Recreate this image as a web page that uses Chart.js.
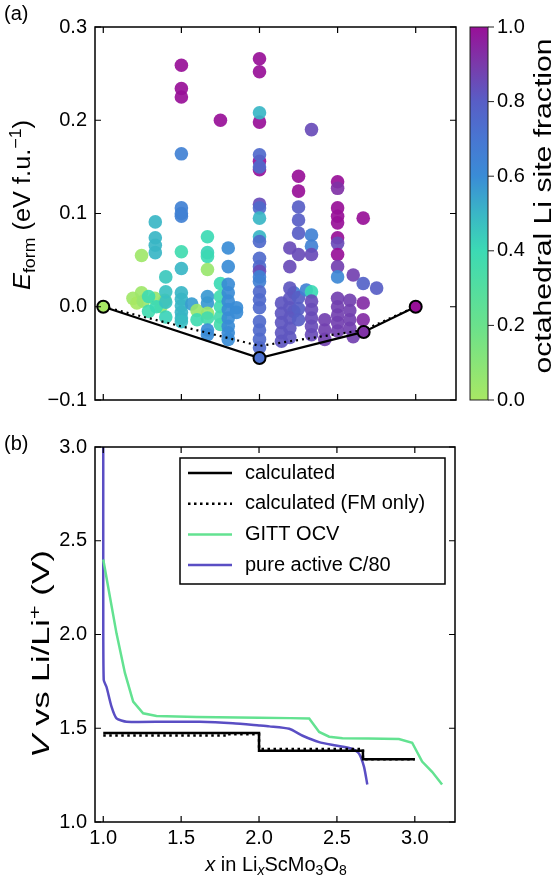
<!DOCTYPE html>
<html><head><meta charset="utf-8">
<script src="https://cdn.jsdelivr.net/npm/chart.js@4/dist/chart.umd.min.js"></script>
<style>
html,body{margin:0;padding:0;background:#fff;width:559px;height:875px;overflow:hidden}
#ca{position:absolute;left:0;top:0}
#cb{position:absolute;left:0;top:420px}
</style></head><body>
<canvas id="ca" width="559" height="420"></canvas>
<canvas id="cb" width="559" height="455"></canvas>
<script>
// ---------- DATA: panel (a) ----------
const scatterX = [
 1.19,1.215,1.245,1.256,1.245,1.33,1.37,1.394,
 1.29,1.29,1.34,
 1.333,1.333,1.333,1.333,
 1.4,1.4,1.4,1.4,
 1.5,1.5,1.5,1.5,1.5,1.5,1.5,1.5,1.5,1.5,1.5,1.5,1.5,1.5,1.5,
 1.566,1.6,1.6,
 1.667,1.667,1.667,1.667,1.667,1.667,1.667,1.667,1.667,1.667,
 1.75,1.75,1.75,1.75,1.75,1.75,
 1.8,1.8,1.8,1.8,1.8,1.8,1.8,1.8,1.8,1.8,
 1.853,1.853,
 2.0,2.0,2.0,2.0,2.0,2.0,2.0,2.0,2.0,2.0,2.0,2.0,2.0,2.0,2.0,2.0,2.0,2.0,2.0,2.0,2.0,2.0,2.0,2.0,2.0,
 2.141,2.141,2.141,2.141,2.141,
 2.22,2.22,
 2.194,2.194,2.194,2.194,2.194,2.194,2.194,2.194,
 2.25,2.25,2.25,2.25,2.25,2.25,2.25,2.25,2.25,
 2.3,
 2.333,2.333,2.333,2.333,2.333,2.333,2.333,2.333,2.333,2.333,
 2.418,2.418,2.418,
 2.5,2.5,2.5,2.5,2.5,2.5,2.5,2.5,2.5,2.5,2.5,2.5,2.5,2.5,2.5,
 2.578,2.578,2.578,2.578,
 2.6,2.6,
 2.664,2.664,2.664,2.664,
 2.75
];
const scatterE = [
 0.009,0.004,0.015,0.006,0.055,0.009,0.0,0.007,
 0.011,-0.005,0.0,
 0.091,0.074,0.066,0.058,
 0.032,0.016,0.005,-0.011,
 0.259,0.234,0.225,0.164,0.106,0.1,0.097,0.059,0.041,0.015,0.008,0.001,-0.006,-0.012,-0.016,
 0.003,-0.004,-0.014,
 0.075,0.058,0.054,0.04,0.011,0.004,-0.007,-0.012,-0.025,-0.03,
 0.2,0.025,0.011,0.0,-0.011,-0.019,
 0.063,0.043,0.024,0.015,0.006,-0.003,-0.012,-0.021,-0.028,-0.035,
 -0.001,-0.006,
 0.266,0.252,0.198,0.156,0.147,0.208,0.163,0.15,0.11,0.106,0.095,0.075,0.07,0.052,0.043,0.038,0.032,0.027,0.016,0.0075,-0.001,-0.016,-0.025,-0.035,-0.044,
 0.004,-0.007,-0.017,-0.028,-0.037,
 0.015,-0.005,
 0.063,0.043,0.02,0.009,-0.001,-0.012,-0.023,-0.033,
 0.14,0.124,0.107,0.093,0.079,0.056,0.01,-0.002,-0.014,
 0.018,
 0.19,0.077,0.065,0.056,0.016,0.006,-0.003,-0.012,-0.021,-0.03,
 -0.014,-0.025,-0.035,
 0.134,0.127,0.106,0.097,0.09,0.074,0.068,0.056,0.043,0.032,0.009,0.0,-0.009,-0.017,-0.026,
 0.007,-0.004,-0.014,-0.023,
 0.034,-0.032,
 0.095,0.025,0.004,-0.014,
 0.02
];
const scatterF = [
 0.02,0.0,0.03,0.05,0.03,0.05,0.06,0.08,
 0.38,0.38,0.4,
 0.5,0.5,0.5,0.5,
 0.45,0.47,0.47,0.42,
 1,1,1,0.65,0.65,0.65,0.65,0.38,0.5,0.5,0.5,0.5,0.5,0.5,0.48,
 0.56,0.05,0.38,
 0.4,0.42,0.4,0.05,0.57,0.57,0.05,0.36,0.6,0.6,
 1,0.4,0.38,0.38,0.36,0.36,
 0.6,0.6,0.6,0.6,0.6,0.6,0.6,0.6,0.6,0.6,
 0.6,0.6,
 1,1,1,1,1,0.5,0.75,0.75,0.85,0.75,0.5,0.5,0.75,0.75,0.75,0.85,0.65,0.65,0.75,0.75,0.75,0.75,0.75,0.75,0.75,
 0.82,0.82,0.82,0.82,0.82,
 0.65,0.65,
 0.85,0.85,0.82,0.82,0.82,0.82,0.82,0.82,
 1,1,0.8,0.8,0.8,0.85,0.8,0.8,0.8,
 0.65,
 0.85,0.65,0.65,0.85,0.4,0.85,0.85,0.85,0.85,0.85,
 0.88,0.88,0.88,
 1,0.92,1,1,1,1,0.85,1,0.88,0.62,0.88,0.88,0.88,0.88,0.88,
 0.88,0.88,0.88,0.88,
 0.88,0.88,
 1,0.78,0.93,0.93,
 0.8
];
const hullX = [1.0, 2.0, 2.667, 3.0];
const hullE = [0.0, -0.055, -0.027, 0.0];
const hullF = [0.0, 0.72, 0.92, 1.0];
const hullFmX = [1.0, 2.0, 2.667, 3.0];
const hullFmE = [0.0, -0.042, -0.025, 0.0];
const xTicks = [1.0, 1.5, 2.0, 2.5, 3.0];
const eTicks = [-0.1, 0.0, 0.1, 0.2, 0.3];
const cbTicks = [0.0, 0.2, 0.4, 0.6, 0.8, 1.0];
// ---------- DATA: panel (b) ----------
const vTicks = [1.0, 1.5, 2.0, 2.5, 3.0];
const calcX = [1.0, 2.0, 2.667, 3.0];
const calcV = [1.475, 1.38, 1.335, 1.335];
const fmX = [1.0, 1.8, 2.0, 2.667, 3.0];
const fmV = [1.462, 1.468, 1.39, 1.335, 1.335];
const gittX = [1.0, 1.043, 1.085, 1.139, 1.192, 1.256, 1.342, 1.6, 2.0, 2.2, 2.322, 2.386, 2.45, 2.536, 2.7, 2.898, 2.983, 3.047, 3.111, 3.175];
const gittV = [2.40, 2.2, 2.006, 1.795, 1.642, 1.58, 1.565, 1.56, 1.556, 1.554, 1.552, 1.48, 1.455, 1.447, 1.445, 1.443, 1.423, 1.322, 1.268, 1.2];
const c80X = [1.0, 1.0, 1.003, 1.021, 1.053, 1.085, 1.15, 1.4, 1.619, 1.832, 2.0, 2.066, 2.194, 2.28, 2.386, 2.493, 2.6, 2.642, 2.674, 2.695];
const c80V = [3.0, 2.2, 1.757, 1.72, 1.615, 1.553, 1.535, 1.535, 1.535, 1.527, 1.515, 1.51, 1.497, 1.46, 1.426, 1.408, 1.39, 1.365, 1.294, 1.2];
const seriesLabels = ['calculated', 'calculated (FM only)', 'GITT OCV', 'pure active C/80'];

// ---------- STYLE ----------
const FONT = '"Liberation Sans", Arial, sans-serif';
const FS = 20;
const FSV = 23;
const X_MIN = 0.947, X_MAX = 3.258;
const cmapStops = [
 [0.0,[168,232,100]],[0.2,[106,225,140]],[0.4,[60,218,180]],[0.5,[58,182,198]],
 [0.6,[58,140,214]],[0.7,[72,118,210]],[0.8,[88,94,198]],[0.9,[122,58,170]],[1.0,[152,16,152]]
];
function cmap(f, a) {
  for (let i = 1; i < cmapStops.length; i++) {
    const [f1, c1] = cmapStops[i], [f0, c0] = cmapStops[i-1];
    if (f <= f1) {
      const t = (f - f0) / (f1 - f0);
      const c = c0.map((v, k) => Math.round(v + (c1[k] - v) * t));
      return `rgba(${c[0]},${c[1]},${c[2]},${a === undefined ? 1 : a})`;
    }
  }
  const c = cmapStops[cmapStops.length-1][1];
  return `rgba(${c[0]},${c[1]},${c[2]},${a === undefined ? 1 : a})`;
}
const fmt = v => (v < 0 ? '\u2212' : '') + Math.abs(v).toFixed(1);

// rich text; if targetLen given, stretch along the text direction to that length
function richText(ctx, parts, x, y, rotate, size, targetLen) {
  const sub = size * 0.7;
  ctx.save();
  ctx.translate(x, y);
  if (rotate) ctx.rotate(-Math.PI / 2);
  const fontFor = p => `${p.i ? 'italic ' : ''}${(p.sub || p.sup) ? sub : size}px ${FONT}`;
  let total = 0;
  parts.forEach(p => { ctx.font = fontFor(p); p.w = ctx.measureText(p.t).width; total += p.w; });
  if (targetLen) ctx.scale(targetLen / total, 1);
  let cx = -total / 2;
  ctx.fillStyle = '#000'; ctx.textAlign = 'left'; ctx.textBaseline = 'alphabetic';
  parts.forEach(p => {
    ctx.font = fontFor(p);
    ctx.fillText(p.t, cx, p.sub ? size * 0.22 : (p.sup ? -size * 0.38 : 0));
    cx += p.w;
  });
  ctx.restore();
}

function drawFrame(chart, xt, yt) {
  const ctx = chart.ctx, a = chart.chartArea, X = chart.scales.x, Y = chart.scales.y;
  ctx.save();
  ctx.strokeStyle = '#000'; ctx.lineWidth = 1.2;
  ctx.beginPath();
  xt.forEach(v => {
    const p = X.getPixelForValue(v);
    ctx.moveTo(p, a.bottom); ctx.lineTo(p, a.bottom - 6);
    ctx.moveTo(p, a.top); ctx.lineTo(p, a.top + 6);
  });
  yt.forEach(v => {
    const p = Y.getPixelForValue(v);
    ctx.moveTo(a.left, p); ctx.lineTo(a.left + 6, p);
    ctx.moveTo(a.right, p); ctx.lineTo(a.right - 6, p);
  });
  ctx.stroke();
  ctx.lineWidth = 1.5;
  ctx.strokeRect(a.left, a.top, a.right - a.left, a.bottom - a.top);
  ctx.restore();
}

const setTicks = vals => s => { s.ticks = vals.map(v => ({ value: v })); };

// ---------- PANEL (a) ----------
const plugA = {
  id: 'plugA',
  afterDraw(chart) {
    const ctx = chart.ctx, a = chart.chartArea;
    drawFrame(chart, xTicks, eTicks);
    // colorbar
    const cb = chart.scales.cb;
    const x0 = 470, x1 = 488, yT = cb.getPixelForValue(1), yB = cb.getPixelForValue(0);
    const g = ctx.createLinearGradient(0, yB, 0, yT);
    cmapStops.forEach(([f]) => g.addColorStop(f, cmap(f)));
    ctx.save();
    ctx.fillStyle = g; ctx.fillRect(x0, yT, x1 - x0, yB - yT);
    ctx.strokeStyle = '#222'; ctx.lineWidth = 1; ctx.strokeRect(x0, yT, x1 - x0, yB - yT);
    ctx.beginPath();
    ctx.font = `${FS}px ${FONT}`; ctx.fillStyle = '#000'; ctx.textAlign = 'left'; ctx.textBaseline = 'middle';
    cbTicks.forEach(v => {
      const p = cb.getPixelForValue(v);
      ctx.moveTo(x1, p); ctx.lineTo(x1 + 6, p);
      ctx.fillText(v.toFixed(1), x1 + 9, p);
    });
    ctx.stroke();
    ctx.restore();
    richText(ctx, [{ t: 'octahedral Li site fraction' }], 551, 206, true, FSV, 335);
    richText(ctx, [{ t: 'E', i: true }, { t: 'form', sub: true }, { t: ' (eV f.u.' }, { t: '\u22121', sup: true }, { t: ')' }], 30, 205, true, FSV, 170);
    ctx.save(); ctx.font = `${FS}px ${FONT}`; ctx.fillStyle = '#000'; ctx.textBaseline = 'middle'; ctx.textAlign = 'left';
    ctx.fillText('(a)', 4, 14); ctx.restore();
  }
};

new Chart(document.getElementById('ca'), {
  type: 'scatter',
  data: {
    datasets: [
      { data: hullX.map((x, i) => ({ x, y: hullE[i] })), pointRadius: 6, pointBackgroundColor: hullF.map(f => cmap(f)), pointBorderColor: '#000', pointBorderWidth: 2, showLine: false },
      { data: hullX.map((x, i) => ({ x, y: hullE[i] })), showLine: true, borderColor: '#000', borderWidth: 2.2, pointRadius: 0 },
      { data: hullFmX.map((x, i) => ({ x, y: hullFmE[i] })), showLine: true, borderColor: '#000', borderWidth: 2.2, borderDash: [2, 4], pointRadius: 0 },
      { data: scatterX.map((x, i) => ({ x, y: scatterE[i] })), pointRadius: 6.8, pointBorderWidth: 0, pointBackgroundColor: scatterF.map(f => cmap(f, 0.92)), showLine: false }
    ]
  },
  options: {
    responsive: false, animation: false, events: [],
    layout: { padding: { left: 0, right: 103, top: 27, bottom: 0 }, autoPadding: false },
    plugins: { legend: { display: false }, tooltip: { enabled: false } },
    scales: {
      x: { type: 'linear', min: X_MIN, max: X_MAX, grid: { display: false, drawTicks: false }, border: { display: false },
           ticks: { display: false }, afterBuildTicks: setTicks(xTicks), afterFit: s => { s.height = 20; } },
      y: { type: 'linear', min: -0.1, max: 0.3, grid: { display: false, drawTicks: false }, border: { display: false },
           ticks: { color: '#000', font: { family: FONT, size: FS }, padding: 8, callback: v => fmt(v) },
           afterBuildTicks: setTicks(eTicks), afterFit: s => { s.width = 95; } },
      cb: { type: 'linear', position: 'right', display: false, min: 0, max: 1 }
    }
  },
  plugins: [plugA]
});

// ---------- PANEL (b) ----------
const plugB = {
  id: 'plugB',
  afterDraw(chart) {
    const ctx = chart.ctx, a = chart.chartArea;
    drawFrame(chart, xTicks, vTicks);
    // legend
    ctx.save();
    ctx.fillStyle = '#fff'; ctx.fillRect(180, 38, 265, 126);
    ctx.strokeStyle = '#000'; ctx.lineWidth = 1.5; ctx.strokeRect(180, 38, 265, 126);
    ctx.font = `${FS}px ${FONT}`; ctx.textBaseline = 'middle'; ctx.textAlign = 'left';
    chart.data.datasets.forEach((d, i) => {
      const y = 53 + i * 30.7;
      ctx.beginPath(); ctx.strokeStyle = d.borderColor; ctx.lineWidth = d.borderWidth;
      ctx.setLineDash(d.borderDash || []);
      ctx.moveTo(188, y); ctx.lineTo(232, y); ctx.stroke();
      ctx.setLineDash([]);
      ctx.fillStyle = '#000'; ctx.fillText(d.label, 245, y);
    });
    ctx.restore();
    richText(ctx, [{ t: 'V', i: true }, { t: ' vs Li/Li' }, { t: '+', sup: true }, { t: ' (V)' }], 49, 234, true, FSV, 208);
    richText(ctx, [{ t: 'x', i: true }, { t: ' in Li' }, { t: 'x', i: true, sub: true }, { t: 'ScMo' }, { t: '3', sub: true }, { t: 'O' }, { t: '8', sub: true }], 276, 451, false, FS);
    ctx.save(); ctx.font = `${FS}px ${FONT}`; ctx.fillStyle = '#000'; ctx.textBaseline = 'middle'; ctx.textAlign = 'left';
    ctx.fillText('(b)', 4, 24); ctx.restore();
  }
};

new Chart(document.getElementById('cb'), {
  type: 'line',
  data: {
    datasets: [
      { label: seriesLabels[0], data: calcX.map((x, i) => ({ x, y: calcV[i] })), stepped: 'before', borderColor: '#000', borderWidth: 2.5, pointRadius: 0 },
      { label: seriesLabels[1], data: fmX.map((x, i) => ({ x, y: fmV[i] })), stepped: 'before', borderColor: '#000', borderWidth: 2.5, borderDash: [2.5, 3.5], pointRadius: 0 },
      { label: seriesLabels[2], data: gittX.map((x, i) => ({ x, y: gittV[i] })), borderColor: '#63e291', borderWidth: 2.5, pointRadius: 0, tension: 0 },
      { label: seriesLabels[3], data: c80X.map((x, i) => ({ x, y: c80V[i] })), borderColor: '#5a4ec4', borderWidth: 2.5, pointRadius: 0, tension: 0.2 }
    ]
  },
  options: {
    responsive: false, animation: false, events: [],
    layout: { padding: { left: 0, right: 104, top: 27, bottom: 0 }, autoPadding: false },
    plugins: { legend: { display: false }, tooltip: { enabled: false } },
    scales: {
      x: { type: 'linear', min: X_MIN, max: X_MAX, grid: { display: false, drawTicks: false }, border: { display: false },
           ticks: { color: '#000', font: { family: FONT, size: FS }, padding: 4, maxRotation: 0, callback: v => v.toFixed(1) },
           afterBuildTicks: setTicks(xTicks), afterFit: s => { s.height = 53; } },
      y: { type: 'linear', min: 1.0, max: 3.0, grid: { display: false, drawTicks: false }, border: { display: false },
           ticks: { color: '#000', font: { family: FONT, size: FS }, padding: 8, callback: v => v.toFixed(1) },
           afterBuildTicks: setTicks(vTicks), afterFit: s => { s.width = 95; } }
    }
  },
  plugins: [plugB]
});
</script>
</body></html>
